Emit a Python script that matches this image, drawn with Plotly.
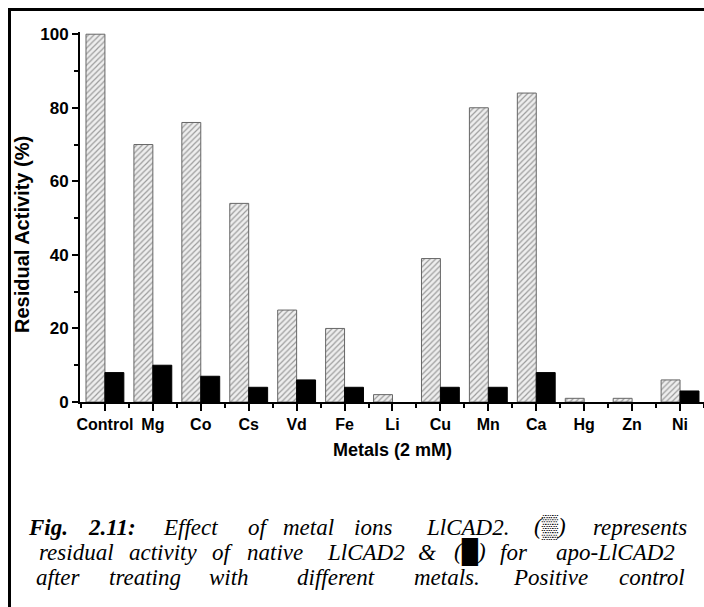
import plotly.graph_objects as go

# ---- data ----
metals = ["Control", "Mg", "Co", "Cs", "Vd", "Fe", "Li", "Cu", "Mn", "Ca", "Hg", "Zn", "Ni"]
native = [100, 70, 76, 54, 25, 20, 2, 39, 80, 84, 1, 1, 6]
apo = [8, 10, 7, 4, 6, 4, 0, 4, 4, 8, 0, 0, 3]
y_ticks = [0, 20, 40, 60, 80, 100]

W, H = 704, 607
ML, MR, MT, MB = 80, 0, 32, 205
PW, PH = W - ML - MR, H - MT - MB


def px(x):
    return (x - ML) / PW


def py(y):
    return (H - MB - y) / PH


xs = list(range(len(metals)))
# zero-valued bars are not drawn in the original
apo_plot = [v if v > 0 else None for v in apo]
native_plot = [v if v > 0 else None for v in native]

fig = go.Figure()
fig.add_trace(go.Bar(
    x=xs, y=native_plot, name="native LlCAD2",
    marker=dict(color="#eeeeee",
                pattern=dict(shape="/", fgcolor="#4a4a4a", bgcolor="#eeeeee", size=4, solidity=0.3),
                line=dict(color="#666666", width=1)),
))
fig.add_trace(go.Bar(
    x=xs, y=apo_plot, name="apo-LlCAD2",
    marker=dict(color="black", line=dict(color="black", width=1)),
))

fig.update_layout(
    width=W, height=H,
    margin=dict(l=ML, r=MR, t=MT, b=MB, autoexpand=False),
    paper_bgcolor="white", plot_bgcolor="white",
    barmode="group", bargap=0.21, bargroupgap=0,
    showlegend=False,
    xaxis=dict(
        range=[-0.52, 12.5], tickmode="array", tickvals=xs, ticktext=metals,
        showline=True, linecolor="black", linewidth=2, mirror=False,
        ticks="outside", ticklen=7, tickwidth=2, tickcolor="black",
        showgrid=False, zeroline=False,
        tickfont=dict(family="Liberation Sans, Arial", size=16, color="black", weight="bold"),
        minor=dict(ticks="outside", ticklen=4, tickwidth=2, tickcolor="black", dtick=1, tick0=0.5, showgrid=False),
    ),
    yaxis=dict(
        range=[0, 100.6], tickmode="array", tickvals=y_ticks,
        showline=True, linecolor="black", linewidth=2,
        ticks="outside", ticklen=6, tickwidth=2, tickcolor="black",
        showgrid=False, zeroline=False,
        tickfont=dict(family="Liberation Sans, Arial", size=17, color="black", weight="bold"),
        minor=dict(ticks="outside", ticklen=4, tickwidth=2, tickcolor="black", dtick=10, tick0=0, showgrid=False),
    ),
)

annos = []
annos.append(dict(text="Residual Activity (%)", textangle=-90, x=px(22), y=py(235),
                  xref="paper", yref="paper", showarrow=False, xanchor="center", yanchor="middle",
                  font=dict(family="Liberation Sans, Arial", size=20, color="black", weight="bold")))
annos.append(dict(text="Metals (2 mM)", x=px(392), y=py(450),
                  xref="paper", yref="paper", showarrow=False, xanchor="center", yanchor="middle",
                  font=dict(family="Liberation Sans, Arial", size=18, color="black", weight="bold")))

# caption, justified by placing words
cap_lines = [
    (527, [("<b>Fig.</b>", 48), ("<b>2.11:</b>", 112), ("Effect", 190), ("of", 259), ("metal", 308),
           ("ions", 373), ("LlCAD2.", 467), ("(▒)", 550), ("represents", 640)]),
    (552, [("residual", 76), ("activity", 163), ("of", 223), ("native", 275), ("LlCAD2", 366),
           ("&amp;", 427), ("(█)", 470), ("for", 514), ("apo-LlCAD2", 615)]),
    (577, [("after", 58), ("treating", 145), ("with", 229), ("different", 336), ("metals.", 447),
           ("Positive", 550), ("control", 652)]),
]
for ycap, words in cap_lines:
    for w, xc in words:
        annos.append(dict(text="<i>" + w + "</i>", x=px(xc), y=py(ycap), xref="paper", yref="paper",
                          showarrow=False, xanchor="center", yanchor="middle",
                          font=dict(family="Liberation Serif, Times New Roman", size=23, color="black")))
fig.update_layout(annotations=annos)

# outer frame (top and left borders)
fig.update_layout(shapes=[
    dict(type="line", xref="paper", yref="paper", x0=px(9), x1=px(704), y0=py(9.5), y1=py(9.5),
         line=dict(color="black", width=3)),
    dict(type="line", xref="paper", yref="paper", x0=px(9.5), x1=px(9.5), y0=py(8), y1=py(607),
         line=dict(color="black", width=3)),
])

fig.write_html("out.html")
